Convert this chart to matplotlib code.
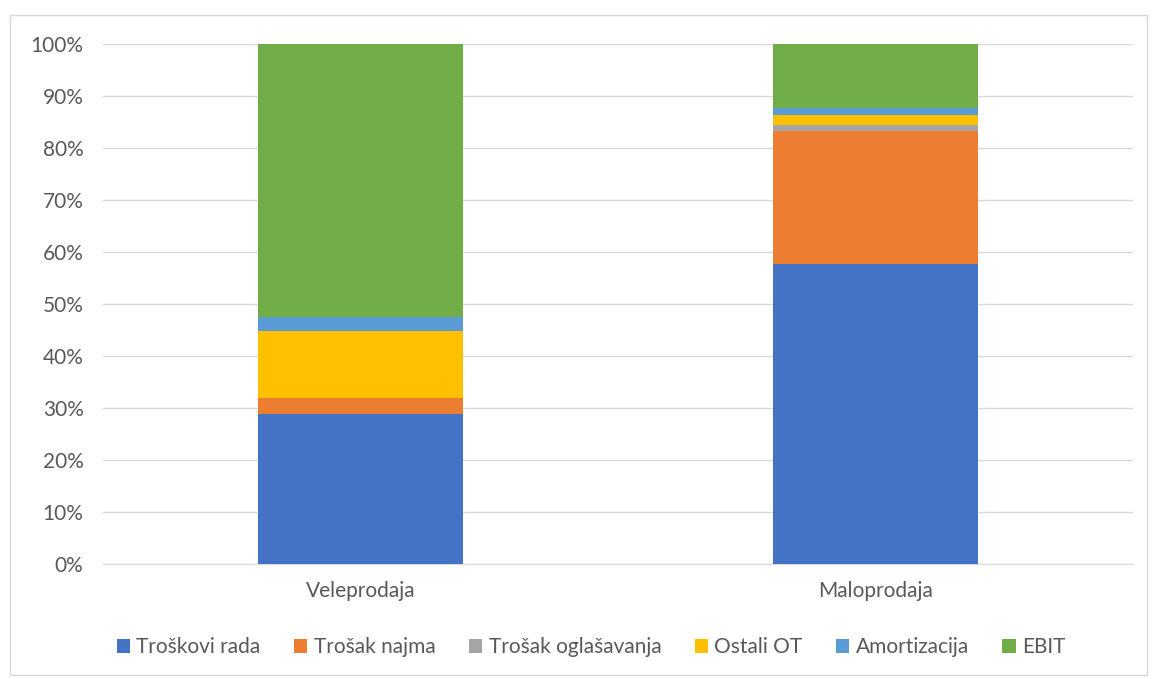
import matplotlib
matplotlib.use("Agg")
import matplotlib.pyplot as plt
from matplotlib.patches import Rectangle

plt.rcParams['font.family'] = ['Lato', 'DejaVu Sans']

categories = ["Veleprodaja", "Maloprodaja"]
series = ["Troškovi rada", "Trošak najma", "Trošak oglašavanja",
          "Ostali OT", "Amortizacija", "EBIT"]
colors = ["#4472c4", "#ed7d31", "#a5a5a5", "#ffc000", "#5b9bd5", "#70ad47"]

# shares in %, per series: [Veleprodaja, Maloprodaja]
troskovi_rada = [28.8, 57.6]
trosak_najma = [3.2, 25.7]
trosak_oglasavanja = [0.0, 1.1]
ostali_ot = [12.8, 1.9]
amortizacija = [2.7, 1.35]
ebit = [52.5, 12.35]
values = [troskovi_rada, trosak_najma, trosak_oglasavanja, ostali_ot, amortizacija, ebit]

fig = plt.figure(figsize=(11.52, 6.79), dpi=100)
ax = fig.add_axes([0.0894, 0.1694, 0.9835 - 0.0894, 0.9352 - 0.1694])

# outer chart border
fig.patches.append(Rectangle((10 / 1152, 4 / 679), 1137 / 1152, 660 / 679,
                             transform=fig.transFigure, fill=False,
                             edgecolor="#d9d9d9", linewidth=1))

x = [0, 1]
bottom = [0.0, 0.0]
for name, vals, c in zip(series, values, colors):
    ax.bar(x, vals, width=0.398, bottom=bottom, color=c, label=name, zorder=3)
    bottom = [b + v for b, v in zip(bottom, vals)]

ax.set_xlim(-0.5, 1.5)
ax.set_ylim(0, 100)
ax.set_yticks(range(0, 101, 10))
ax.set_yticklabels([f"{t}%" for t in range(0, 101, 10)])
ax.set_xticks(x)
ax.set_xticklabels(categories)
ax.grid(axis="y", color="#d9d9d9", linewidth=1, zorder=0)
for s in ["top", "right", "left"]:
    ax.spines[s].set_visible(False)
ax.spines["bottom"].set_color("#d9d9d9")
ax.tick_params(axis="both", length=0, labelsize=15, colors="#595959", pad=14)
ax.tick_params(axis="x", pad=12)

fig.legend(loc="center", bbox_to_anchor=(0.513, 1 - 647 / 679), ncol=6,
           frameon=False, fontsize=15, handlelength=0.65, handleheight=0.65,
           handletextpad=0.3, columnspacing=1.6, labelcolor="#595959")

fig.savefig("out.png", dpi=100)
